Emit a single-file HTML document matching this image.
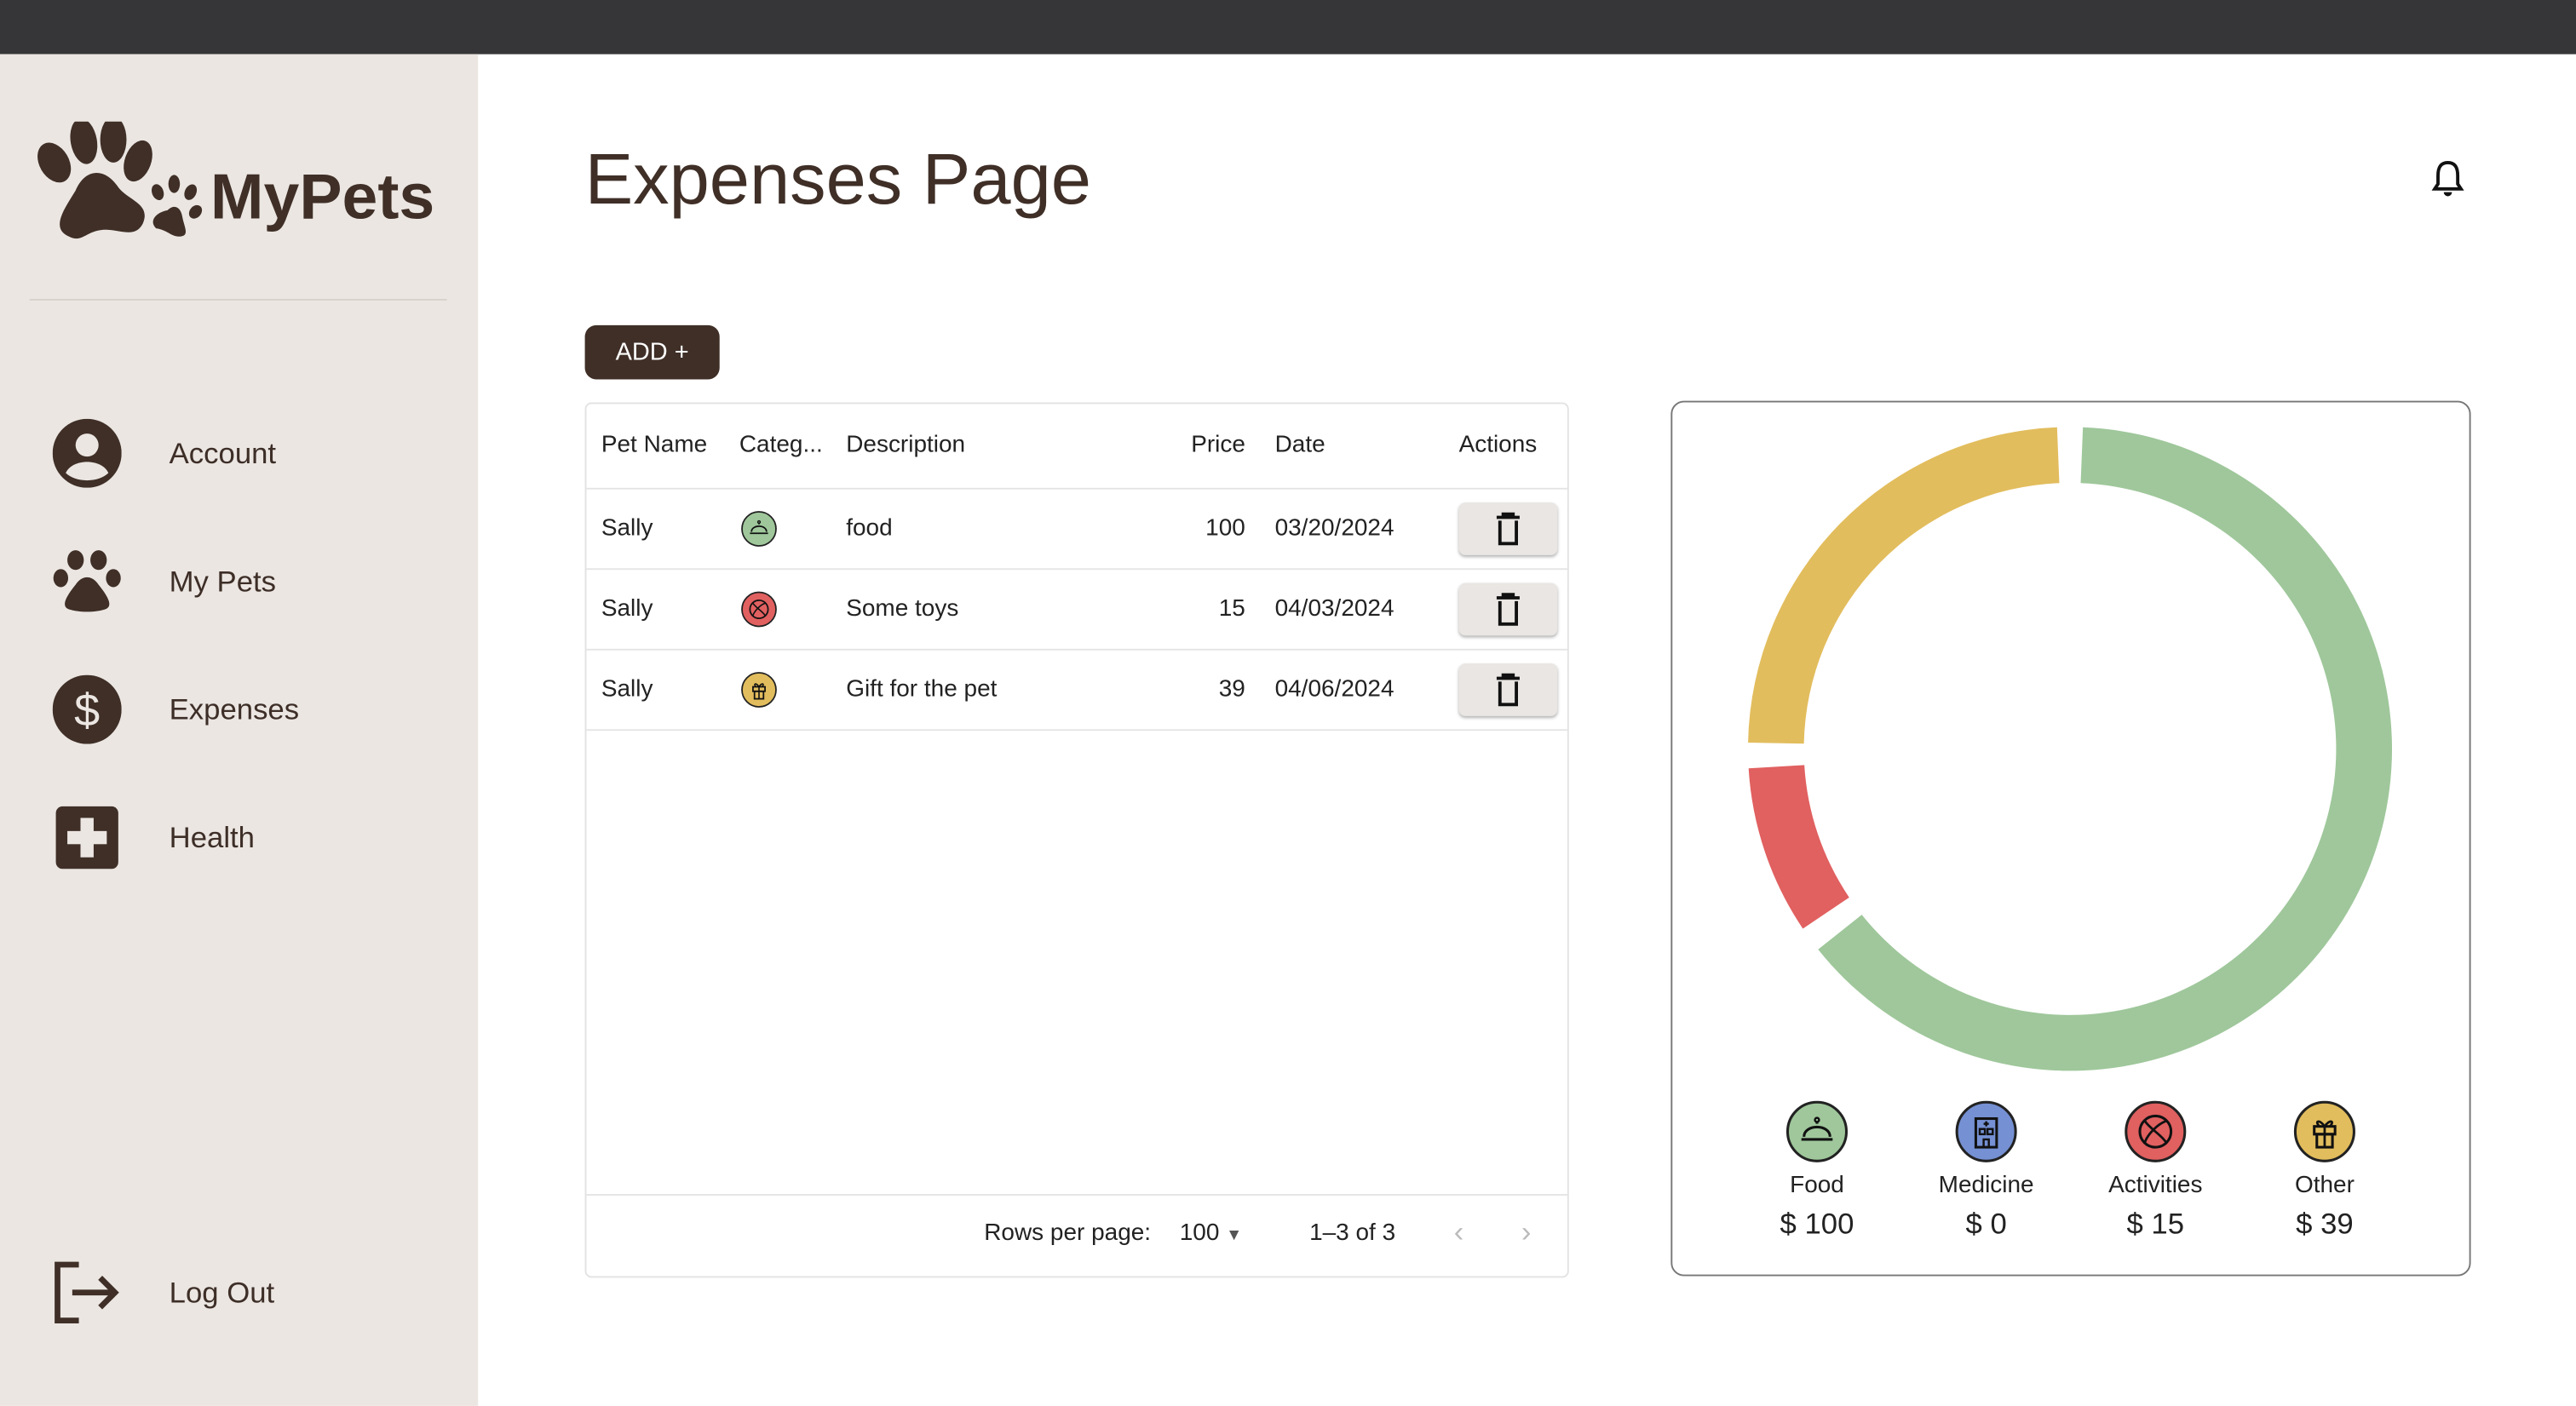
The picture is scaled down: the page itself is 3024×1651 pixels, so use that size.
<!DOCTYPE html>
<html><head><meta charset="utf-8">
<style>
html,body{margin:0;padding:0;width:3024px;height:1650px;overflow:hidden;background:#fff;font-family:"Liberation Sans",sans-serif;}
#wrap{position:absolute;left:0;top:0;width:1568px;height:856px;transform:scale(1.928571);transform-origin:0 0;}
.abs{position:absolute;}
#topbar{left:0;top:0;width:1568px;height:33px;background:#363638;}
#side{left:0;top:33px;width:291px;height:823px;background:#ebe6e2;}
.nav{position:absolute;left:32px;height:42px;width:240px;display:flex;align-items:center;color:#3d2e27;font-size:18px;}
.nav span{margin-left:29px;}
.ic{width:42px;height:42px;}
.row{position:absolute;left:0;width:597px;height:48px;border-bottom:1px solid #e5e5e5;}
.cell{position:absolute;top:0;line-height:48px;font-size:14.5px;color:#222;}
.del{position:absolute;left:531px;top:8px;width:60px;height:32px;background:#e9e6e3;border-radius:4px;box-shadow:0 1px 2px rgba(0,0,0,.3);}
.cat{position:absolute;left:94px;top:13px;width:22px;height:22px;}
.leg{position:absolute;text-align:center;width:100px;color:#222;}
</style></head><body>
<div id="wrap">
<div id="topbar" class="abs"></div>
<div id="side" class="abs">
  <div class="abs" style="left:20px;top:41px;width:260px;height:80px;">
    <svg width="110" height="80" viewBox="0 0 110 80">
      <g fill="#3f2f27">
        <ellipse cx="13" cy="25" rx="9" ry="13" transform="rotate(-30 13 25)"/>
        <ellipse cx="31" cy="12" rx="8" ry="14" transform="rotate(-10 31 12)"/>
        <ellipse cx="49" cy="11" rx="8" ry="14"/>
        <ellipse cx="64" cy="24" rx="8" ry="13" transform="rotate(20 64 24)"/>
        <path d="M22 70 C10 65 20 52 26 42 C32 28 44 28 52 40 C58 48 72 50 67 62 C62 72 52 65 42 66 C32 67 30 74 22 70Z"/>
        <ellipse cx="76" cy="43" rx="3.5" ry="5" transform="rotate(-20 76 43)"/>
        <ellipse cx="86" cy="38" rx="3.5" ry="5.5"/>
        <ellipse cx="96" cy="43" rx="3.5" ry="5" transform="rotate(25 96 43)"/>
        <ellipse cx="99" cy="55" rx="3.5" ry="4.5" transform="rotate(40 99 55)"/>
        <path d="M75 65 C70 60 76 55 82 54 C86 50 90 52 91 58 C92 64 96 70 89 70 C84 70 82 66 75 65Z"/>
      </g>
    </svg>
    <div class="abs" style="left:108px;top:25px;font-size:39px;font-weight:bold;color:#3f2f27;">MyPets</div>
  </div>
  <div class="abs" style="left:18px;top:149px;width:254px;height:1px;background:#d8d2cd;"></div>
  <div class="nav" style="top:222px;">
    <svg class="ic" viewBox="0 0 42 42"><circle cx="21" cy="21" r="21" fill="#3f2f27"/><circle cx="21" cy="16" r="7" fill="#ebe6e2"/><path d="M8 33 C12 24 30 24 34 33 C28 39 14 39 8 33Z" fill="#ebe6e2"/></svg><span>Account</span></div>
  <div class="nav" style="top:300px;">
    <svg class="ic" viewBox="0 0 42 42"><g fill="#3f2f27"><ellipse cx="5" cy="19" rx="4.5" ry="5.5"/><ellipse cx="14" cy="8" rx="5" ry="6"/><ellipse cx="28" cy="8" rx="5" ry="6"/><ellipse cx="37" cy="19" rx="4.5" ry="5.5"/><path d="M10 38 C4 36 10 28 14 23 C18 17 24 17 28 23 C32 28 38 36 32 38 C26 40 16 40 10 38Z"/></g></svg><span>My Pets</span></div>
  <div class="nav" style="top:378px;">
    <svg class="ic" viewBox="0 0 42 42"><circle cx="21" cy="21" r="21" fill="#3f2f27"/><text x="21" y="31" text-anchor="middle" font-size="28" fill="#ebe6e2" font-family="Liberation Sans">$</text></svg><span>Expenses</span></div>
  <div class="nav" style="top:456px;">
    <svg class="ic" viewBox="0 0 42 42"><rect x="2" y="2" width="38" height="38" rx="4" fill="#3f2f27"/><rect x="17" y="9" width="8" height="24" fill="#ebe6e2"/><rect x="9" y="17" width="24" height="8" fill="#ebe6e2"/></svg><span>Health</span></div>
  <div class="nav" style="top:733px;">
    <svg class="ic" viewBox="0 0 42 42"><path d="M16 4 H3 V38 H16" fill="none" stroke="#3f2f27" stroke-width="3.5"/><path d="M12 21 H38 M29 12 L38 21 L29 30" fill="none" stroke="#3f2f27" stroke-width="3.5"/></svg><span>Log Out</span></div>
</div>

<div class="abs" style="left:356px;top:85px;font-size:44px;color:#3f2f27;">Expenses Page</div>
<svg class="abs" style="left:1480px;top:97px;" width="20" height="24" viewBox="0 0 20 24"><path d="M10 2 C5 2 4 6 4 10 V15 L2 18 H18 L16 15 V10 C16 6 15 2 10 2Z" fill="none" stroke="#111" stroke-width="2"/><path d="M7.5 20 a2.5 2.5 0 0 0 5 0" fill="#111"/></svg>
<div class="abs" style="left:356px;top:198px;width:82px;height:33px;background:#3f2f27;border-radius:7px;color:#fff;font-size:15px;line-height:33px;text-align:center;">ADD +</div>

<div class="abs" style="left:356px;top:245px;width:597px;height:531px;border:1px solid #e3e3e3;border-radius:4px;">
  <div class="row" style="top:0;height:51px;">
    <div class="cell" style="left:9px;line-height:51px;">Pet Name</div>
    <div class="cell" style="left:93px;line-height:51px;">Categ...</div>
    <div class="cell" style="left:158px;line-height:51px;">Description</div>
    <div class="cell" style="left:368px;line-height:51px;">Price</div>
    <div class="cell" style="left:419px;line-height:51px;">Date</div>
    <div class="cell" style="left:531px;line-height:51px;">Actions</div>
  </div>
  <div id="rows"></div>
  <div class="abs" style="left:0;top:481px;width:597px;height:1px;background:#e5e5e5;"></div>
  <div class="abs" style="left:242px;top:497px;font-size:14.5px;color:#222;">Rows per page:</div>
  <div class="abs" style="left:361px;top:497px;font-size:14.5px;color:#222;">100 <span style="font-size:10px;color:#555;">▼</span></div>
  <div class="abs" style="left:440px;top:497px;font-size:14.5px;color:#222;">1–3 of 3</div>
  <div class="abs" style="left:528px;top:494px;font-size:18px;color:#bbb;">‹</div>
  <div class="abs" style="left:569px;top:494px;font-size:18px;color:#bbb;">›</div>
</div>

<div class="abs" style="left:1017px;top:244px;width:485px;height:531px;border:1px solid #777;border-radius:8px;">
  <svg id="donut" class="abs" style="left:0;top:0;" width="485" height="420"></svg>
  <div id="legend"></div>
</div>
</div>
<script>
const petNames=["Sally","Sally","Sally"];
const rowCategories=["Food","Activities","Other"];
const descriptions=["food","Some toys","Gift for the pet"];
const prices=[100,15,39];
const dates=["03/20/2024","04/03/2024","04/06/2024"];

const categories=["Food","Medicine","Activities","Other"];
const amounts=[100,0,15,39];
const catColors={Food:"#9fc79b",Medicine:"#7590d3",Activities:"#e16060",Other:"#e2bd5d"};
const glyphs={
 Food:'<path d="M6 15 H18 M7 14 C7 9 17 9 17 14 M12 9 V8" fill="none" stroke="#111" stroke-width="1"/><circle cx="12" cy="7.5" r="0.8" fill="none" stroke="#111" stroke-width="0.8"/>',
 Medicine:'<rect x="8" y="7" width="8" height="11" fill="none" stroke="#111" stroke-width="1"/><rect x="9.5" y="11" width="2" height="2" fill="none" stroke="#111" stroke-width="0.8"/><rect x="12.5" y="11" width="2" height="2" fill="none" stroke="#111" stroke-width="0.8"/><path d="M11 18 V15 H13 V18 M12 8 V10 M11 9 H13" fill="none" stroke="#111" stroke-width="0.8"/>',
 Activities:'<circle cx="12" cy="12" r="6" fill="none" stroke="#111" stroke-width="1"/><path d="M8 8 C10 11 14 13 16 16 M16 8 C13 9 9 13 8 16" fill="none" stroke="#111" stroke-width="0.9"/>',
 Other:'<rect x="8" y="10" width="8" height="3" fill="none" stroke="#111" stroke-width="1"/><rect x="9" y="13" width="6" height="5" fill="none" stroke="#111" stroke-width="1"/><path d="M12 10 V18 M12 10 C10 7 8 8 10 10 M12 10 C14 7 16 8 14 10" fill="none" stroke="#111" stroke-width="0.9"/>'
};
function catIcon(c,size){return `<svg width="${size}" height="${size}" viewBox="0 0 24 24"><circle cx="12" cy="12" r="11.3" fill="${catColors[c]}" stroke="#222" stroke-width="1"/>${glyphs[c]}</svg>`;}

const rowsEl=document.getElementById('rows');
petNames.forEach((p,i)=>{
  const r=document.createElement('div');
  r.className='row';r.style.top=(52+i*49)+'px';
  
  
  r.innerHTML=`<div class="cell" style="left:9px">${p}</div>
  <div class="cat">${catIcon(rowCategories[i],22)}</div>
  <div class="cell" style="left:158px">${descriptions[i]}</div>
  <div class="cell" style="right:196px">${prices[i]}</div>
  <div class="cell" style="left:419px">${dates[i]}</div>
  <div class="del"><svg width="60" height="32" viewBox="0 0 60 32"><path d="M23 9 H37 M27 9 V7 H33 V9 M25 11 V25 H35 V11" fill="none" stroke="#111" stroke-width="2"/></svg></div>`;
  const d=r.querySelector('.del');
  
  
  rowsEl.appendChild(r);
});

const svg=document.getElementById('donut');
const NS='http://www.w3.org/2000/svg';
const cx=242,cy=211,rOut=196,rIn=162,padDeg=4.6;
const total=amounts.reduce((a,b)=>a+b,0);
function pt(r,deg){const a=(deg-90)*Math.PI/180;return [cx+r*Math.cos(a),cy+r*Math.sin(a)];}
let start=0;
amounts.forEach((v,i)=>{
  const sweep=v/total*360;
  if(v>0){
    const a0=start+padDeg/2,a1=start+sweep-padDeg/2;
    const large=(a1-a0)>180?1:0;
    const p0=pt(rOut,a0),p1=pt(rOut,a1),p2=pt(rIn,a1),p3=pt(rIn,a0);
    const path=document.createElementNS(NS,'path');
    path.setAttribute('d',`M${p0} A${rOut} ${rOut} 0 ${large} 1 ${p1} L${p2} A${rIn} ${rIn} 0 ${large} 0 ${p3}Z`);
    path.setAttribute('fill',catColors[categories[i]]);
    
    
    svg.appendChild(path);
  }
  start+=sweep;
});
const leg=document.getElementById('legend');
categories.forEach((c,i)=>{
  const d=document.createElement('div');
  d.className='leg';
  d.style.left=(38+i*103)+'px';d.style.top='425px';
  
  
  d.innerHTML=`<div style="width:38px;height:38px;margin:0 auto;">${catIcon(c,38)}</div>
  <div style="font-size:14.5px;margin-top:6px;">${c}</div>
  <div style="font-size:18px;margin-top:5px;">$ ${amounts[i]}</div>`;
  leg.appendChild(d);
});
</script>
</body></html>
